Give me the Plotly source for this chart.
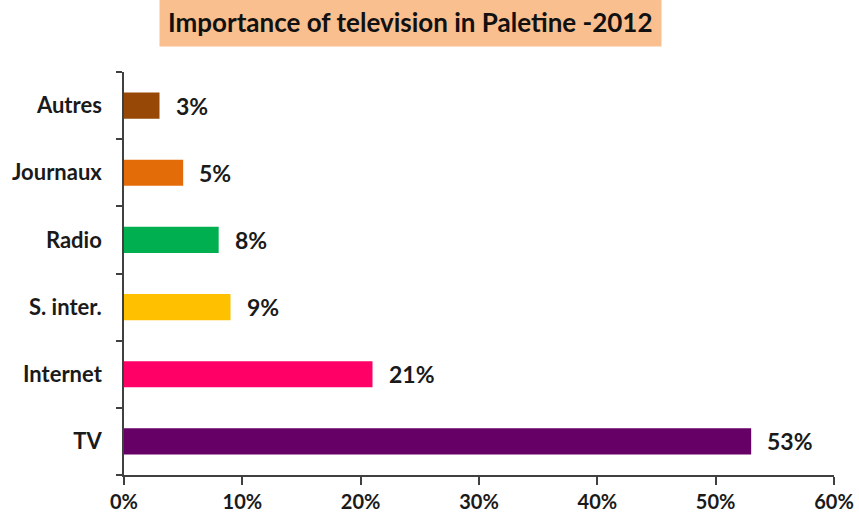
import plotly.graph_objects as go

# Media usage shares (bottom to top)
categories = ["TV", "Internet", "S. inter.", "Radio", "Journaux", "Autres"]
shares = [53, 21, 9, 8, 5, 3]
bar_colors = ["#660066", "#FF0066", "#FFC000", "#00B050", "#E36C09", "#974706"]
x_ticks = [0, 10, 20, 30, 40, 50, 60]
x_tick_labels = [f"{v}%" for v in x_ticks]

FONT = "Lato, 'Open Sans', sans-serif"

fig = go.Figure(
    go.Bar(
        x=shares,
        y=categories,
        orientation="h",
        marker=dict(color=bar_colors, line=dict(width=0)),
        hoverinfo="skip",
    )
)

# Value labels to the right of each bar
for cat, val in zip(categories, shares):
    fig.add_annotation(
        x=val, y=cat, text=f"<b>{val}%</b>", showarrow=False,
        xanchor="left", yanchor="middle", xshift=14,
        font=dict(family=FONT, size=23, color="#1a1a1a"),
    )

# Title in a shaded box
fig.add_annotation(
    xref="paper", yref="paper", x=0.404, y=1.124,
    text="<b>Importance of television in Paletine -2012</b>",
    showarrow=False, xanchor="center", yanchor="middle",
    bgcolor="#F9BF8F", borderpad=8,
    font=dict(family=FONT, size=26, color="#111111"),
)

fig.update_layout(
    width=859, height=515,
    margin=dict(l=124, r=25, t=72, b=40),
    paper_bgcolor="white", plot_bgcolor="white",
    bargap=0.61, showlegend=False,
    font=dict(family=FONT, color="#1a1a1a"),
)
fig.update_xaxes(
    range=[0, 60], tickvals=x_ticks, ticktext=x_tick_labels,
    showgrid=False, zeroline=False, automargin=False,
    showline=True, linecolor="#404040", linewidth=1.5,
    ticks="outside", ticklen=8, tickcolor="#404040", tickwidth=1.5,
    tickfont=dict(family=FONT, size=20, color="#1a1a1a", weight="bold"),
    ticklabelstandoff=0,
)
fig.update_yaxes(
    categoryorder="array", categoryarray=categories,
    showgrid=False, zeroline=False, automargin=False,
    showline=True, linecolor="#404040", linewidth=1.5,
    ticks="outside", ticklen=6, tickcolor="#404040", tickwidth=1.5,
    tickson="boundaries",
    tickfont=dict(family=FONT, size=22, color="#1a1a1a", weight="bold"),
    ticklabelstandoff=16,
)

fig.write_html("out.html")
